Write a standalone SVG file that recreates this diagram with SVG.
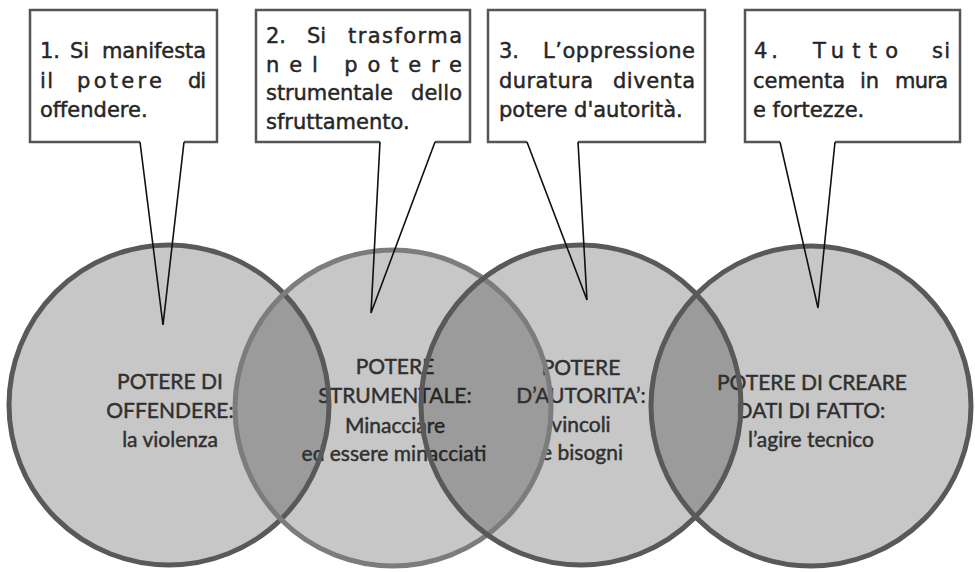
<svg xmlns="http://www.w3.org/2000/svg" width="975" height="572" viewBox="0 0 975 572">
  <style>
    .disc { fill: #000; fill-opacity: 0.22; stroke: none; }
    .ring { fill: none; stroke: #595959; stroke-width: 5; }
    .ring.soft { stroke: #7c7c7c; }
    .label { font-family: Lato, "Open Sans", sans-serif; font-size: 21px; fill: #303030; stroke: #303030; stroke-width: 0.45; text-anchor: middle; }
    .box { fill: #fff; stroke: #555; stroke-width: 2.5; stroke-linejoin: miter; }
    .note { font-family: "DejaVu Sans", Verdana, sans-serif; font-size: 21px; fill: #262626; stroke: #262626; stroke-width: 0.45; }
    .pointer { fill: none; stroke: #111; stroke-width: 1.6; stroke-linejoin: miter; }
  </style>

  <rect width="975" height="572" fill="#fff"/>

  <!-- circle fills and their labels -->
  <g id="node-offendere">
    <circle class="disc" cx="169" cy="405" r="160"/>
    <text class="label" x="170" y="389">POTERE DI</text>
    <text class="label" x="170" y="418">OFFENDERE:</text>
    <text class="label" x="170" y="447">la violenza</text>
  </g>
  <g id="node-strumentale">
    <circle class="disc" cx="393" cy="408" r="158"/>
    <text class="label" x="395" y="374">POTERE</text>
    <text class="label" x="395" y="403">STRUMENTALE:</text>
    <text class="label" x="395" y="433">Minacciare</text>
    <text class="label" x="394" y="461">ed essere minacciati</text>
  </g>
  <g id="node-autorita">
    <circle class="disc" cx="581" cy="405" r="160"/>
    <text class="label" x="581" y="375">POTERE</text>
    <text class="label" x="581" y="403">D’AUTORITA’:</text>
    <text class="label" x="581" y="432">vincoli</text>
    <text class="label" x="582" y="460">e bisogni</text>
  </g>
  <g id="node-fatto">
    <circle class="disc" cx="811" cy="406" r="160"/>
    <text class="label" x="812" y="390">POTERE DI CREARE</text>
    <text class="label" x="811" y="418">DATI DI FATTO:</text>
    <text class="label" x="811" y="447">l’agire tecnico</text>
  </g>

  <!-- circle outlines sit above every label -->
  <g id="outlines">
    <circle class="ring" cx="169" cy="405" r="160"/>
    <circle class="ring soft" cx="393" cy="408" r="158"/>
    <circle class="ring" cx="581" cy="405" r="160"/>
    <circle class="ring" cx="811" cy="406" r="160"/>
  </g>

  <!-- callout boxes; justified lines are set word by word -->
  <g id="callout-1">
    <path class="box" d="M140,142 H30 V10 H217 V142 H184"/>
    <text class="note" y="58"><tspan x="40">1.</tspan> <tspan x="70">Si</tspan> <tspan x="102" textLength="104" lengthAdjust="spacing">manifesta</tspan></text>
    <text class="note" y="88"><tspan x="40" textLength="13" lengthAdjust="spacing">il</tspan> <tspan x="77" textLength="85" lengthAdjust="spacing">potere</tspan> <tspan x="188" textLength="18" lengthAdjust="spacing">di</tspan></text>
    <text class="note" x="40" y="117">offendere.</text>
  </g>
  <g id="callout-2">
    <path class="box" d="M380,142 H256 V10 H470 V142 H435"/>
    <text class="note" y="43"><tspan x="266">2.</tspan> <tspan x="307">Si</tspan> <tspan x="348" textLength="114" lengthAdjust="spacing">trasforma</tspan></text>
    <text class="note" x="266" y="72" textLength="196" lengthAdjust="spacing">nel potere</text>
    <text class="note" y="100"><tspan x="266" textLength="127" lengthAdjust="spacing">strumentale</tspan> <tspan x="411" textLength="51" lengthAdjust="spacing">dello</tspan></text>
    <text class="note" x="266" y="129">sfruttamento.</text>
  </g>
  <g id="callout-3">
    <path class="box" d="M527,142 H488 V10 H705 V142 H578"/>
    <text class="note" y="58"><tspan x="499">3.</tspan> <tspan x="543" textLength="152" lengthAdjust="spacing">L’oppressione</tspan></text>
    <text class="note" y="88"><tspan x="499" textLength="94" lengthAdjust="spacing">duratura</tspan> <tspan x="613" textLength="82" lengthAdjust="spacing">diventa</tspan></text>
    <text class="note" x="499" y="117">potere d'autorità.</text>
  </g>
  <g id="callout-4">
    <path class="box" d="M780,142 H745 V10 H960 V142 H835"/>
    <text class="note" y="58"><tspan x="754" textLength="24" lengthAdjust="spacing">4.</tspan> <tspan x="813" textLength="85" lengthAdjust="spacing">Tutto</tspan> <tspan x="932" textLength="18" lengthAdjust="spacing">si</tspan></text>
    <text class="note" y="88"><tspan x="753" textLength="92" lengthAdjust="spacing">cementa</tspan> <tspan x="860">in</tspan> <tspan x="895" textLength="53" lengthAdjust="spacing">mura</tspan></text>
    <text class="note" x="753" y="117">e fortezze.</text>
  </g>

  <!-- callout pointers reaching into the circles -->
  <g id="connectors">
    <path class="pointer" d="M140,142 L163,325 L184,142"/>
    <path class="pointer" d="M380,142 L371,313 L435,142"/>
    <path class="pointer" d="M527,142 L587,300 L578,142"/>
    <path class="pointer" d="M780,142 L818,308 L835,142"/>
  </g>
</svg>
